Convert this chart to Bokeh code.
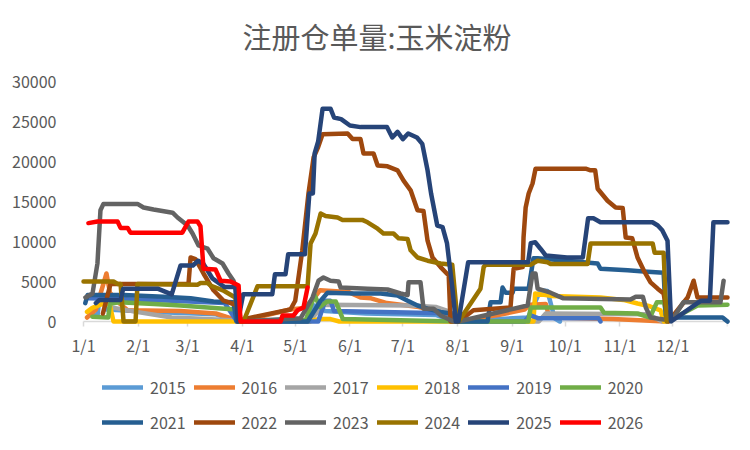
from bokeh.embed import file_html
from bokeh.models import FixedTicker, Legend, LegendItem, Range1d, Title
from bokeh.plotting import figure
from bokeh.resources import INLINE

# x = day of year (0 = 1/1), y = registered warehouse receipts
month_days = [0, 31, 59, 90, 120, 151, 181, 212, 243, 273, 304, 334, 365]
month_labels = ["1/1", "2/1", "3/1", "4/1", "5/1", "6/1", "7/1", "8/1",
                "9/1", "10/1", "11/1", "12/1", ""]

days_2015 = [5, 8, 9, 11, 13, 40, 75, 89, 127, 131, 137, 160, 200, 211,
             252, 254, 259, 263, 267, 270]
vals_2015 = [800, 800, 3000, 2500, 1500, 1200, 900, 0, 0, 2000, 1300, 1000, 800, 0,
             500, 1500, 3900, 3800, 400, 0]

days_2016 = [2, 7, 13, 15, 18, 25, 55, 75, 89, 117, 125, 131, 134, 150, 157, 163,
             172, 190, 205, 211, 212, 235, 250, 253, 262, 264, 300, 330]
vals_2016 = [500, 1500, 6000, 3600, 2700, 1400, 1300, 1000, 0, 1500, 1700, 3000,
             3900, 3700, 3000, 2900, 2300, 1800, 1000, 0, 0, 800, 1500, 2100, 2200,
             500, 300, 0]

days_2017 = [15, 30, 50, 70, 88, 90, 128, 136, 185, 200, 208, 212, 258, 262, 320, 328]
vals_2017 = [1800, 1200, 500, 300, 100, 0, 0, 2100, 2000, 1800, 1200, 0, 0, 1000,
             900, 0]

days_2018 = [2, 5, 13, 15, 17, 128, 133, 140, 145, 255, 256, 265, 293, 306, 314,
             321, 327, 329]
vals_2018 = [1200, 1700, 2400, 2000, 0, 0, 300, 300, 0, 0, 3500, 3200, 3000, 2700,
             2250, 1900, 1400, 0]

days_2019 = [3, 20, 50, 80, 87, 133, 137, 140, 142, 190, 210, 212, 250, 253, 258,
             292, 293]
vals_2019 = [2900, 2800, 2600, 2300, 0, 0, 2600, 2600, 1300, 1100, 1000, 0, 0, 800,
             400, 400, 0]

days_2020 = [5, 14, 15, 20, 40, 55, 80, 88, 89, 126, 131, 134, 138, 143, 147, 212,
             252, 253.5, 293, 295, 314, 321, 325, 329, 331, 348, 365]
vals_2020 = [600, 500, 2200, 2400, 2200, 2000, 1600, 1500, 0, 200, 3300, 1800, 2500,
             2500, 300, 0, 0, 1750, 1750, 1100, 1000, 500, 2400, 2400, 0, 2000, 2100]

days_2021 = [1, 2.3, 22.7, 45.4, 60.7, 73.7, 85, 86.7, 127, 134.4, 138.3, 153, 168.4,
             178, 183.7, 189.3, 195, 202.4, 208, 211, 229, 230.7, 236.4, 237.5, 239.2,
             243.2, 243.8, 252.3, 255, 257.4, 291.4, 293, 308.4, 317.5, 328.8, 330,
             331.6, 362.2, 365]
vals_2021 = [2300, 3300, 3300, 3100, 2900, 2500, 2400, 0, 0, 2600, 3600, 3500, 3500,
             3250, 2600, 2000, 1600, 1200, 1000, 0, 0, 2400, 2400, 4250, 3600, 3600,
             4100, 4100, 7900, 7900, 7250, 6600, 6400, 6250, 6100, 750, 500, 500, 0]

days_2022 = [11, 15.3, 59.5, 60.7, 63.5, 68, 73.7, 79.4, 87.3, 89, 91, 117.3, 120,
             124, 127.5, 130.4, 133, 135.5, 149.7, 152.5, 157, 158.7, 164.4, 166.7,
             172.3, 178, 181.4, 185.4, 189.3, 192.7, 195, 197.8, 202.4, 207, 208,
             212.6, 221, 242, 243.8, 248.9, 249.4, 250.6, 252.3, 254.5, 256.2, 284.6,
             287.4, 290, 291.4, 297, 301.6, 305.6, 307.3, 311, 314, 317.5, 321.4,
             325.4, 328.8, 331.6, 342.4, 345.8, 348, 365]
vals_2022 = [1000, 4700, 4700, 8000, 7800, 6000, 3900, 2600, 2000, 0, 300, 1500,
             2600, 8900, 16000, 20500, 21800, 23400, 23500, 22800, 22800, 21000, 21000,
             19500, 19400, 18900, 17600, 16400, 13900, 13800, 10100, 8000, 6800, 5750,
             0, 0, 1400, 1750, 6600, 6800, 10500, 14250, 16000, 17250, 19100, 19100,
             18900, 18900, 16600, 15100, 14250, 14200, 10500, 10400, 8000, 6400, 4900,
             4100, 3500, 0, 3000, 5100, 3000, 3000]

days_2023 = [1.1, 5.1, 7.9, 9.6, 11.3, 30.6, 34, 39.7, 50.5, 53.3, 59, 61.8, 65.2,
             70.3, 73.7, 78.8, 82.2, 85, 87.3, 89, 123, 129.8, 133.2, 136, 140, 144.6,
             145.7, 161, 172.3, 179.7, 183.7, 184.2, 191, 192.7, 198.4, 202.4, 209.8,
             212.6, 251.7, 254.5, 256.2, 257.4, 264.7, 268.7, 272, 310, 313, 317,
             318.7, 321.4, 328.8, 334.5, 340, 361, 362.8]
vals_2023 = [3000, 3500, 7250, 13900, 14700, 14700, 14250, 14000, 13600, 13000, 12000,
             11000, 9500, 9100, 7900, 7250, 6000, 5100, 3500, 0, 400, 3000, 5100, 5500,
             5100, 5000, 4250, 4100, 4000, 3500, 3300, 4900, 4900, 1600, 1600, 750, 0,
             0, 2000, 6000, 6000, 4100, 3600, 3200, 2900, 2750, 3100, 3100, 1750, 500,
             250, 500, 2400, 2400, 5100]

days_2024 = [0, 17, 19.3, 21, 22.7, 29.5, 30.6, 64.6, 66.3, 70.3, 72, 79, 86, 88,
             90.7, 98.6, 127, 128.7, 131.5, 134.4, 137.2, 144, 146.8, 158, 161, 166.7,
             170, 175.7, 178.6, 183.7, 185.4, 189.3, 195, 202.4, 209, 212, 212.6, 225,
             226.8, 228, 253.4, 257.4, 263, 264.7, 285.7, 287.4, 322.6, 323.7, 328.8,
             330.5]
vals_2024 = [5000, 5000, 4700, 4700, 0, 0, 4700, 4600, 4800, 4800, 4500, 3900, 3000,
             0, 0, 4400, 4400, 9750, 11000, 13500, 13200, 13000, 12700, 12700, 12400,
             11600, 11000, 11000, 10400, 10300, 8900, 8000, 7600, 7250, 7100, 0, 0,
             4100, 6800, 7100, 7100, 7600, 7400, 7200, 7200, 9750, 9750, 8600, 8600, 0]

days_2025 = [7, 9, 21, 22.5, 42, 50, 55, 62, 65, 68, 73, 80, 86, 87.5, 90.5, 107,
             108.5, 114.5, 116, 125.5, 128, 130, 131, 133, 135.5, 140, 142, 146, 151,
             157, 172, 175, 178, 181, 184, 189, 192, 195, 197, 200.5, 203.5, 206, 209,
             211, 212.5, 218, 252, 253.5, 256, 259, 262, 274, 283, 286, 289, 293,
             322.5, 325.5, 328, 331, 333, 350, 355, 357, 365]
vals_2025 = [2300, 2700, 2700, 4100, 4100, 3400, 7000, 7000, 7600, 7200, 5400, 4300,
             4300, 0, 3400, 3400, 5900, 5900, 8400, 8400, 16000, 16000, 21000, 22500,
             26600, 26600, 25500, 25300, 24500, 24300, 24300, 23000, 23700, 22800,
             23500, 23000, 22200, 18900, 16000, 12000, 11800, 9800, 4300, 0, 0, 7400,
             7400, 9800, 9900, 9100, 8250, 8000, 8000, 12900, 12900, 12400, 12400,
             12000, 11400, 10100, 0, 2600, 2600, 12400, 12400]

days_2026 = [2.8, 7.9, 19.3, 21, 25, 26.6, 56, 59.5, 64.6, 66.3, 68, 74.8, 77.7,
             83.3, 87.9, 89, 111.7, 112.8, 119, 121.3, 124.7, 127]
vals_2026 = [12300, 12500, 12500, 11700, 11700, 11100, 11100, 12500, 12500, 11900,
             6600, 6500, 5100, 5000, 4500, 0, 0, 750, 750, 1400, 1750, 4250]

years = ["2015", "2016", "2017", "2018", "2019", "2020",
         "2021", "2022", "2023", "2024", "2025", "2026"]
colors = ["#5B9BD5", "#ED7D31", "#A5A5A5", "#FFC000", "#4472C4", "#70AD47",
          "#255E91", "#9E480E", "#636363", "#997300", "#264478", "#FF0000"]
series = [(days_2015, vals_2015), (days_2016, vals_2016), (days_2017, vals_2017),
          (days_2018, vals_2018), (days_2019, vals_2019), (days_2020, vals_2020),
          (days_2021, vals_2021), (days_2022, vals_2022), (days_2023, vals_2023),
          (days_2024, vals_2024), (days_2025, vals_2025), (days_2026, vals_2026)]

FONT = "Noto Sans CJK SC"
GREY = "#595959"

# the frame runs down to the bottom (legend rows sit inside it) and starts a
# little left of 1/1 so that the first tick label is not clipped;
# the x axis is pinned at y=0
p = figure(width=742, height=442, output_backend="svg", toolbar_location=None,
           x_range=Range1d(-13.04, 365), y_range=Range1d(-14875, 30000),
           min_border_left=60, min_border_right=15, min_border_top=81,
           min_border_bottom=2)
p.outline_line_color = None
p.grid.grid_line_color = None

p.title.text = "注册仓单量:玉米淀粉"
p.title.text_font = FONT
p.title.text_font_size = "29px"
p.title.text_font_style = "normal"
p.title.text_color = GREY
p.title.align = "left"
p.title.offset = 182
p.title.standoff = 0

# blank spacer between the frame and the title, lifts the title up
p.add_layout(Title(text=" ", text_font_size="2px", standoff=21), "above")

p.xaxis.fixed_location = 0
p.xaxis.bounds = (0, 365)
p.xaxis.ticker = FixedTicker(ticks=month_days)
p.xaxis.major_label_overrides = {d: lab for d, lab in zip(month_days, month_labels)}
p.xaxis.axis_line_color = "#D9D9D9"
p.xaxis.axis_line_width = 1.5
p.xaxis.major_tick_line_color = "#D9D9D9"
p.xaxis.major_tick_line_width = 1.5
p.xaxis.major_tick_in = 0
p.xaxis.major_tick_out = 5
p.xaxis.minor_tick_line_color = None
p.xaxis.major_label_standoff = 6

p.yaxis.ticker = FixedTicker(ticks=[0, 5000, 10000, 15000, 20000, 25000, 30000])
p.yaxis.axis_line_color = None
p.yaxis.major_tick_line_color = None
p.yaxis.minor_tick_line_color = None
p.yaxis.major_label_standoff = -2
p.yaxis.formatter.use_scientific = False

for ax in (p.xaxis, p.yaxis):
    ax.major_label_text_font = FONT
    ax.major_label_text_font_size = "16px"
    ax.major_label_text_color = GREY

items = []
for year, color, (xs, ys) in zip(years, colors, series):
    r = p.line(xs, ys, line_color=color, line_width=4.5, line_join="round",
               line_cap="round", level="annotation")
    items.append(LegendItem(label=year, renderers=[r]))

for row, y in ((items[:6], 41), (items[6:], 6)):
    legend = Legend(items=row, orientation="horizontal", location=(42, y),
                    label_text_font=FONT, label_text_font_size="16px",
                    label_text_color=GREY, glyph_width=41, glyph_height=24,
                    label_standoff=7, spacing=8, padding=4, margin=0,
                    border_line_color=None, background_fill_alpha=0)
    p.add_layout(legend)

open("out.html", "w").write(file_html(p, INLINE))
